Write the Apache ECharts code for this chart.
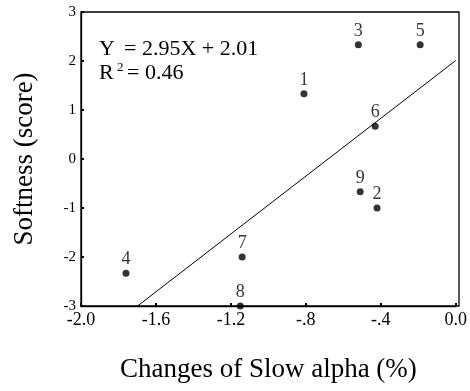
<!DOCTYPE html>
<html>
<head>
<meta charset="utf-8">
<script src="https://cdn.jsdelivr.net/npm/echarts@6/dist/echarts.min.js"></script>
<style>
  html, body { margin: 0; padding: 0; background: #fff; }
  #chart { width: 470px; height: 391px; }
</style>
</head>
<body>
<div id="chart"></div>
<script>
// subject numbers, slow alpha change (%), softness score
var ids = ["1", "2", "3", "4", "5", "6", "7", "8", "9"];
var xVals = [-0.81, -0.42, -0.52, -1.76, -0.19, -0.43, -1.14, -1.15, -0.51];
var yVals = [1.33, -1.0, 2.33, -2.33, 2.33, 0.67, -2.0, -3.0, -0.67];
var xTicks = ["-2.0", "-1.6", "-1.2", "-.8", "-.4", "0.0"];
var slope = 2.95, intercept = 2.01;

var myChart = echarts.init(document.getElementById("chart"));
var font = "Liberation Serif";

var points = ids.map(function (id, i) {
  return { value: [xVals[i], yVals[i]], name: id };
});

// fitted line, clipped to y = -3 at the low end
var xStart = (-3 - intercept) / slope;
var fit = [[xStart, -3], [0, intercept]];

function txt(left, top, text, size) {
  return {
    type: "text", left: left, top: top, silent: true,
    style: { text: text, font: size + "px 'Liberation Serif'", fill: "#000" }
  };
}

var option = {
  backgroundColor: "#fff",
  animation: false,
  grid: { left: 81, right: 11, top: 12, bottom: 85 },
  xAxis: {
    type: "value",
    min: -2, max: 0, interval: 0.4,
    name: "Changes of Slow alpha (%)",
    nameLocation: "middle",
    nameGap: 50,
    nameTextStyle: { fontFamily: font, fontSize: 27, color: "#000" },
    axisLine: { onZero: false, lineStyle: { color: "#000", width: 1.3 } },
    axisTick: { show: true, inside: true, length: 3, lineStyle: { color: "#000", width: 2 } },
    axisLabel: {
      fontFamily: font, fontSize: 18, color: "#000", margin: 5,
      formatter: function (v) {
        var idx = Math.round((v + 2) / 0.4);
        return xTicks[idx];
      }
    },
    splitLine: { show: false }
  },
  yAxis: {
    type: "value",
    min: -3, max: 3, interval: 1,
    name: "Softness (score)",
    nameLocation: "middle",
    nameGap: 43,
    nameTextStyle: { fontFamily: font, fontSize: 27, color: "#000" },
    axisLine: { onZero: false, lineStyle: { color: "#000", width: 1.3 } },
    axisTick: { show: true, inside: true, length: 3, lineStyle: { color: "#000", width: 2 } },
    axisLabel: { fontFamily: font, fontSize: 15, color: "#000", margin: 5 },
    splitLine: { show: false }
  },
  graphic: [
    {
      type: "rect",
      shape: { x: 81, y: 12, width: 378, height: 294 },
      style: { fill: "none", stroke: "#000", lineWidth: 1.3 },
      silent: true
    },
    txt(99, 38, "Y", 22),
    txt(124, 38, "= 2.95X + 2.01", 22),
    txt(99, 62, "R", 22),
    txt(117, 61, "2", 13),
    txt(127, 62, "= 0.46", 22)
  ],
  series: [
    {
      type: "line",
      data: fit,
      symbol: "none",
      lineStyle: { color: "#000", width: 1 },
      silent: true
    },
    {
      type: "scatter",
      data: points,
      symbol: "circle",
      symbolSize: 7,
      itemStyle: { color: "#000" },
      label: {
        show: true,
        position: "top",
        distance: 1,
        formatter: "{b}",
        fontFamily: font,
        fontSize: 18,
        color: "#000"
      }
    }
  ]
};

myChart.setOption(option);
window.onresize = function () {
  myChart.resize();
};
</script>
</body>
</html>
